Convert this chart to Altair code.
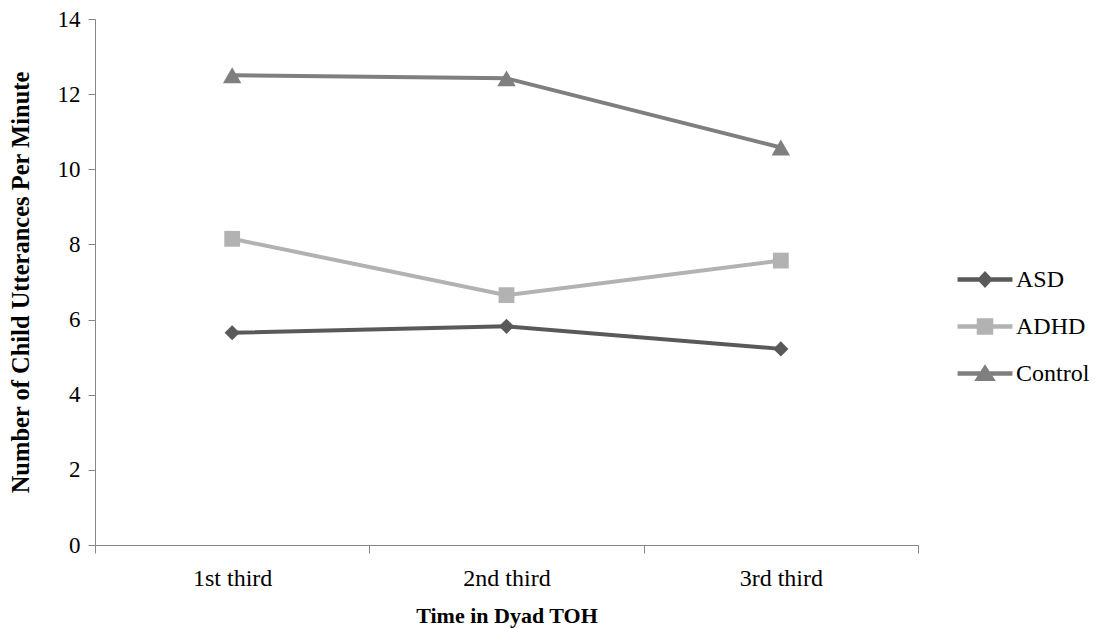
import altair as alt
import pandas as pd

categories = ["1st third", "2nd third", "3rd third"]
series = ["ASD", "ADHD", "Control"]
asd = [5.65, 5.82, 5.22]
adhd = [8.15, 6.65, 7.57]
control = [12.5, 12.42, 10.58]
colors = ["#595959", "#b2b2b2", "#7f7f7f"]
shapes = ["diamond", "square", "triangle-up"]
sizes = [230, 250, 340]

rows = []
for name, vals in zip(series, [asd, adhd, control]):
    for i, (c, v) in enumerate(zip(categories, vals)):
        rows.append({"group": name, "time": c, "pos": i + 0.5, "value": v})
df = pd.DataFrame(rows)

FONT = "Liberation Serif"

path_asd = "M-1.83,-0.15L1.83,-0.15L1.83,0.15L-1.83,0.15Z M0,-0.57L0.53,0L0,0.57L-0.53,0Z"
path_adhd = "M-1.83,-0.15L1.83,-0.15L1.83,0.15L-1.83,0.15Z M-0.55,-0.55L0.55,-0.55L0.55,0.55L-0.55,0.55Z"
path_ctrl = "M-1.83,-0.15L1.83,-0.15L1.83,0.15L-1.83,0.15Z M0,-0.62L0.72,0.5L-0.72,0.5Z"
shape_signal = (
    f"datum.value === 'ASD' ? '{path_asd}' : "
    f"(datum.value === 'ADHD' ? '{path_adhd}' : '{path_ctrl}')"
)

label_expr = (
    "datum.value % 1 === 0.5 ? "
    "['1st third','2nd third','3rd third'][floor(datum.value)] : ''"
)

x_enc = alt.X(
    "pos:Q",
    scale=alt.Scale(domain=[0, 3], nice=False, zero=False),
    axis=alt.Axis(
        title="Time in Dyad TOH",
        values=[0, 0.5, 1, 1.5, 2, 2.5, 3],
        labelExpr=label_expr,
        grid=False,
        tickSize=8,
        tickColor="#868686",
        tickOpacity={"condition": {"test": "datum.value % 1 !== 0", "value": 0}, "value": 1},
        domainColor="#868686",
        labelFont=FONT,
        labelFontSize=24,
        labelColor="#000000",
        labelPadding=13,
        labelFlush=False,
        labelOverlap=False,
        titleFont=FONT,
        titleFontSize=22,
        titleFontWeight="bold",
        titleColor="#000000",
        titlePadding=15,
    ),
)

y_enc = alt.Y(
    "value:Q",
    scale=alt.Scale(domain=[0, 14], nice=False),
    axis=alt.Axis(
        title="Number of Child Utterances Per Minute",
        values=[0, 2, 4, 6, 8, 10, 12, 14],
        grid=False,
        tickSize=7,
        tickColor="#868686",
        domainColor="#868686",
        labelFont=FONT,
        labelFontSize=23,
        labelColor="#000000",
        labelPadding=8,
        titleFont=FONT,
        titleFontSize=24.5,
        titleFontWeight="bold",
        titleColor="#000000",
        titlePadding=24,
    ),
)

color_scale = alt.Scale(domain=series, range=colors)

legend = alt.Legend(
    title=None,
    orient="none",
    legendX=875,
    legendY=245.5,
    padding=0,
    symbolSize=900,
    symbolType=alt.ExprRef(shape_signal),
    symbolStrokeWidth=0,
    symbolOpacity=1,
    rowPadding=20,
    labelOffset=16,
    labelFont=FONT,
    labelFontSize=24,
    labelColor="#000000",
)

point_layers = []
for name, shp, sz in zip(series, shapes, sizes):
    point_layers.append(
        alt.Chart(df)
        .transform_filter(alt.datum.group == name)
        .mark_point(filled=True, opacity=1, shape=shp, size=sz)
        .encode(
            x=x_enc,
            y=y_enc,
            color=alt.Color("group:N", scale=color_scale, sort=series, legend=legend),
        )
    )

lines = alt.Chart(df).mark_line(strokeWidth=4).encode(
    x=x_enc,
    y=y_enc,
    color=alt.Color("group:N", scale=color_scale, sort=series, legend=legend),
)

chart = (
    alt.layer(*point_layers, lines)
    .properties(
        width=823,
        height=526,
        autosize=alt.AutoSizeParams(type="none"),
        padding={"left": 87, "top": 11, "right": 183, "bottom": 83},
    )
    .configure(
        background="#ffffff",
        view={"stroke": None, "strokeWidth": 0},
        style={"cell": {"stroke": "transparent", "strokeWidth": 0}},
        axis={"grid": False},
    )
)

chart.save("out.html", embed_options={"renderer": "svg", "actions": False})
